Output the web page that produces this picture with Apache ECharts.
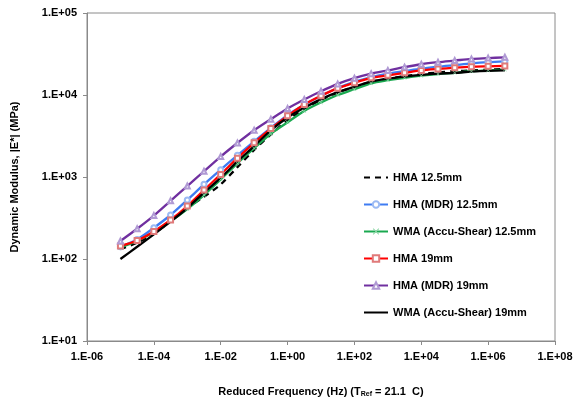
<!DOCTYPE html>
<html>
<head>
<meta charset="utf-8">
<script src="https://cdn.jsdelivr.net/npm/echarts@6/dist/echarts.min.js"></script>
<style>html,body{margin:0;padding:0;background:#fff}#c{width:580px;height:403px}</style>
</head>
<body>
<div id="c"></div>
<script>
// Reduced frequency (Hz), half-decade points
const freq = [1e-5, 3.16e-5, 1e-4, 3.16e-4, 1e-3, 3.16e-3, 1e-2, 3.16e-2, 1e-1, 3.16e-1, 1, 3.16,
              10, 31.6, 100, 316, 1000, 3160, 1e4, 3.16e4, 1e5, 3.16e5, 1e6, 3.16e6];
// Dynamic modulus |E*| (MPa)
const hma125      = [132, 158, 204, 288, 417, 575, 813, 1318, 2138, 3311, 4898, 6761, 8710, 10715, 12589, 14454, 15849, 16982, 17989, 18836, 19498, 19953, 20417, 20654];
const hmaMdr125   = [141, 173, 240, 344, 525, 813, 1230, 1841, 2723, 3981, 5689, 7586, 9772, 12162, 14454, 16406, 18197, 19498, 20893, 22131, 23174, 24266, 25119, 25704];
const wmaAccu125  = [138, 166, 214, 288, 407, 603, 933, 1469, 2239, 3365, 4645, 6397, 8128, 10000, 11749, 13900, 15136, 16218, 17179, 17989, 18621, 19498, 19953, 20417];
const hma19       = [144, 168, 217, 299, 442, 692, 1076, 1698, 2612, 3890, 5572, 7674, 9772, 12106, 14125, 16218, 17378, 18621, 19953, 20797, 21528, 22131, 22387, 22594];
const hmaMdr19    = [166, 234, 339, 513, 776, 1175, 1778, 2600, 3715, 5070, 6840, 8810, 11090, 13650, 16030, 18200, 19950, 21880, 23710, 25120, 26300, 27540, 28180, 28840];
const wmaAccu19   = [100, 141, 200, 285, 417, 646, 977, 1549, 2382, 3715, 5321, 6998, 8913, 10864, 12589, 14555, 15849, 16788, 17579, 18197, 18621, 19275, 19724, 19953];
const seriesNames = ['HMA 12.5mm', 'HMA (MDR) 12.5mm', 'WMA (Accu-Shear) 12.5mm', 'HMA 19mm', 'HMA (MDR) 19mm', 'WMA (Accu-Shear) 19mm'];

function pairs(ys){ return ys.map((y,i)=>[freq[i], y]); }
function fmt(v){
  const e = Math.round(Math.log10(v));
  const a = Math.abs(e);
  return '1.E' + (e < 0 ? '-' : '+') + (a < 10 ? '0' + a : '' + a);
}
const crossPath = 'path://M0,1 L1,0 L5,4 L9,0 L10,1 L6,5 L10,9 L9,10 L5,6 L1,10 L0,9 L4,5 Z';
const font = 'Liberation Sans, Arial, sans-serif';
const clear = 'rgba(0,0,0,0)';

const chart = echarts.init(document.getElementById('c'), null, {renderer:'canvas'});
function mk(name, data, color, opts){
  return Object.assign({
    name: name, type: 'line', data: pairs(data), smooth: 0.3,
    lineStyle: {color: color, width: 2.3},
    itemStyle: {color: color},
    showSymbol: false, symbol: 'none',
    animation: false
  }, opts || {});
}
const option = {
  animation: false,
  grid: {left: 87, right: 25, top: 13, bottom: 54, show: true, borderColor: '#8a8a8a', borderWidth: 1},
  xAxis: {
    type: 'log', logBase: 10, min: 1e-6, max: 1e8, interval: 2,
    name: '{a|Reduced Frequency (Hz) (T}{s|Ref}{a| = 21.1  C)}',
    nameLocation: 'middle', nameGap: 44,
    nameTextStyle: {rich: {
      a: {fontFamily: font, fontSize: 11, fontWeight: 'bold', color: '#000'},
      s: {fontFamily: font, fontSize: 7, fontWeight: 'bold', color: '#000', verticalAlign: 'bottom', padding: [6,0,0,0]}
    }},
    axisLine: {show: true, lineStyle: {color: '#8a8a8a', width: 1}},
    axisTick: {show: true, inside: false, length: 4, lineStyle: {color: '#8a8a8a'}},
    minorTick: {show: false},
    splitLine: {show: false},
    axisLabel: {formatter: fmt, fontFamily: font, fontSize: 11, fontWeight: 'bold', color: '#000', margin: 10}
  },
  yAxis: {
    type: 'log', logBase: 10, min: 10, max: 100000, interval: 1,
    name: 'Dynamic Modulus, |E*| (MPa)',
    nameLocation: 'middle', nameGap: 67, nameRotate: 90,
    nameTextStyle: {fontFamily: font, fontSize: 11, fontWeight: 'bold', color: '#000'},
    axisLine: {show: true, lineStyle: {color: '#8a8a8a', width: 1}},
    axisTick: {show: true, length: 4, lineStyle: {color: '#8a8a8a'}},
    splitLine: {show: false},
    axisLabel: {formatter: fmt, fontFamily: font, fontSize: 11, fontWeight: 'bold', color: '#000', margin: 10}
  },
  legend: {
    orient: 'vertical', left: 358, top: 167, itemWidth: 24, itemHeight: 8, itemGap: 16,
    data: [
      {name: seriesNames[0], itemStyle: {color: clear, borderColor: clear, borderWidth: 0}},
      {name: seriesNames[1]},
      {name: seriesNames[2]},
      {name: seriesNames[3]},
      {name: seriesNames[4]},
      {name: seriesNames[5], itemStyle: {color: clear, borderColor: clear, borderWidth: 0}}
    ],
    textStyle: {fontFamily: font, fontSize: 11, fontWeight: 'bold', color: '#000'}
  },
  series: [
    mk(seriesNames[0], hma125, '#000000', {lineStyle: {color: '#000', width: 2.3, type: [6, 5]}}),
    mk(seriesNames[1], hmaMdr125, '#3f7cf2', {showSymbol: true, symbol: 'emptyCircle', symbolSize: 5,
      itemStyle: {color: '#9cbaf3', borderColor: '#9cbaf3', borderWidth: 1}}),
    mk(seriesNames[2], wmaAccu125, '#1aa950', {showSymbol: true, symbol: crossPath, symbolSize: 4,
      itemStyle: {color: '#8fd6a8'}}),
    mk(seriesNames[3], hma19, '#ff0000', {showSymbol: true, symbol: 'emptyRect', symbolSize: 5,
      itemStyle: {color: '#e07a7a', borderColor: '#e07a7a', borderWidth: 1}}),
    mk(seriesNames[4], hmaMdr19, '#7030a0', {showSymbol: true, symbol: 'emptyTriangle', symbolSize: 5,
      itemStyle: {color: '#b09ad4', borderColor: '#b09ad4', borderWidth: 1}}),
    mk(seriesNames[5], wmaAccu19, '#000000')
  ]
};
chart.setOption(option);
</script>
</body>
</html>
